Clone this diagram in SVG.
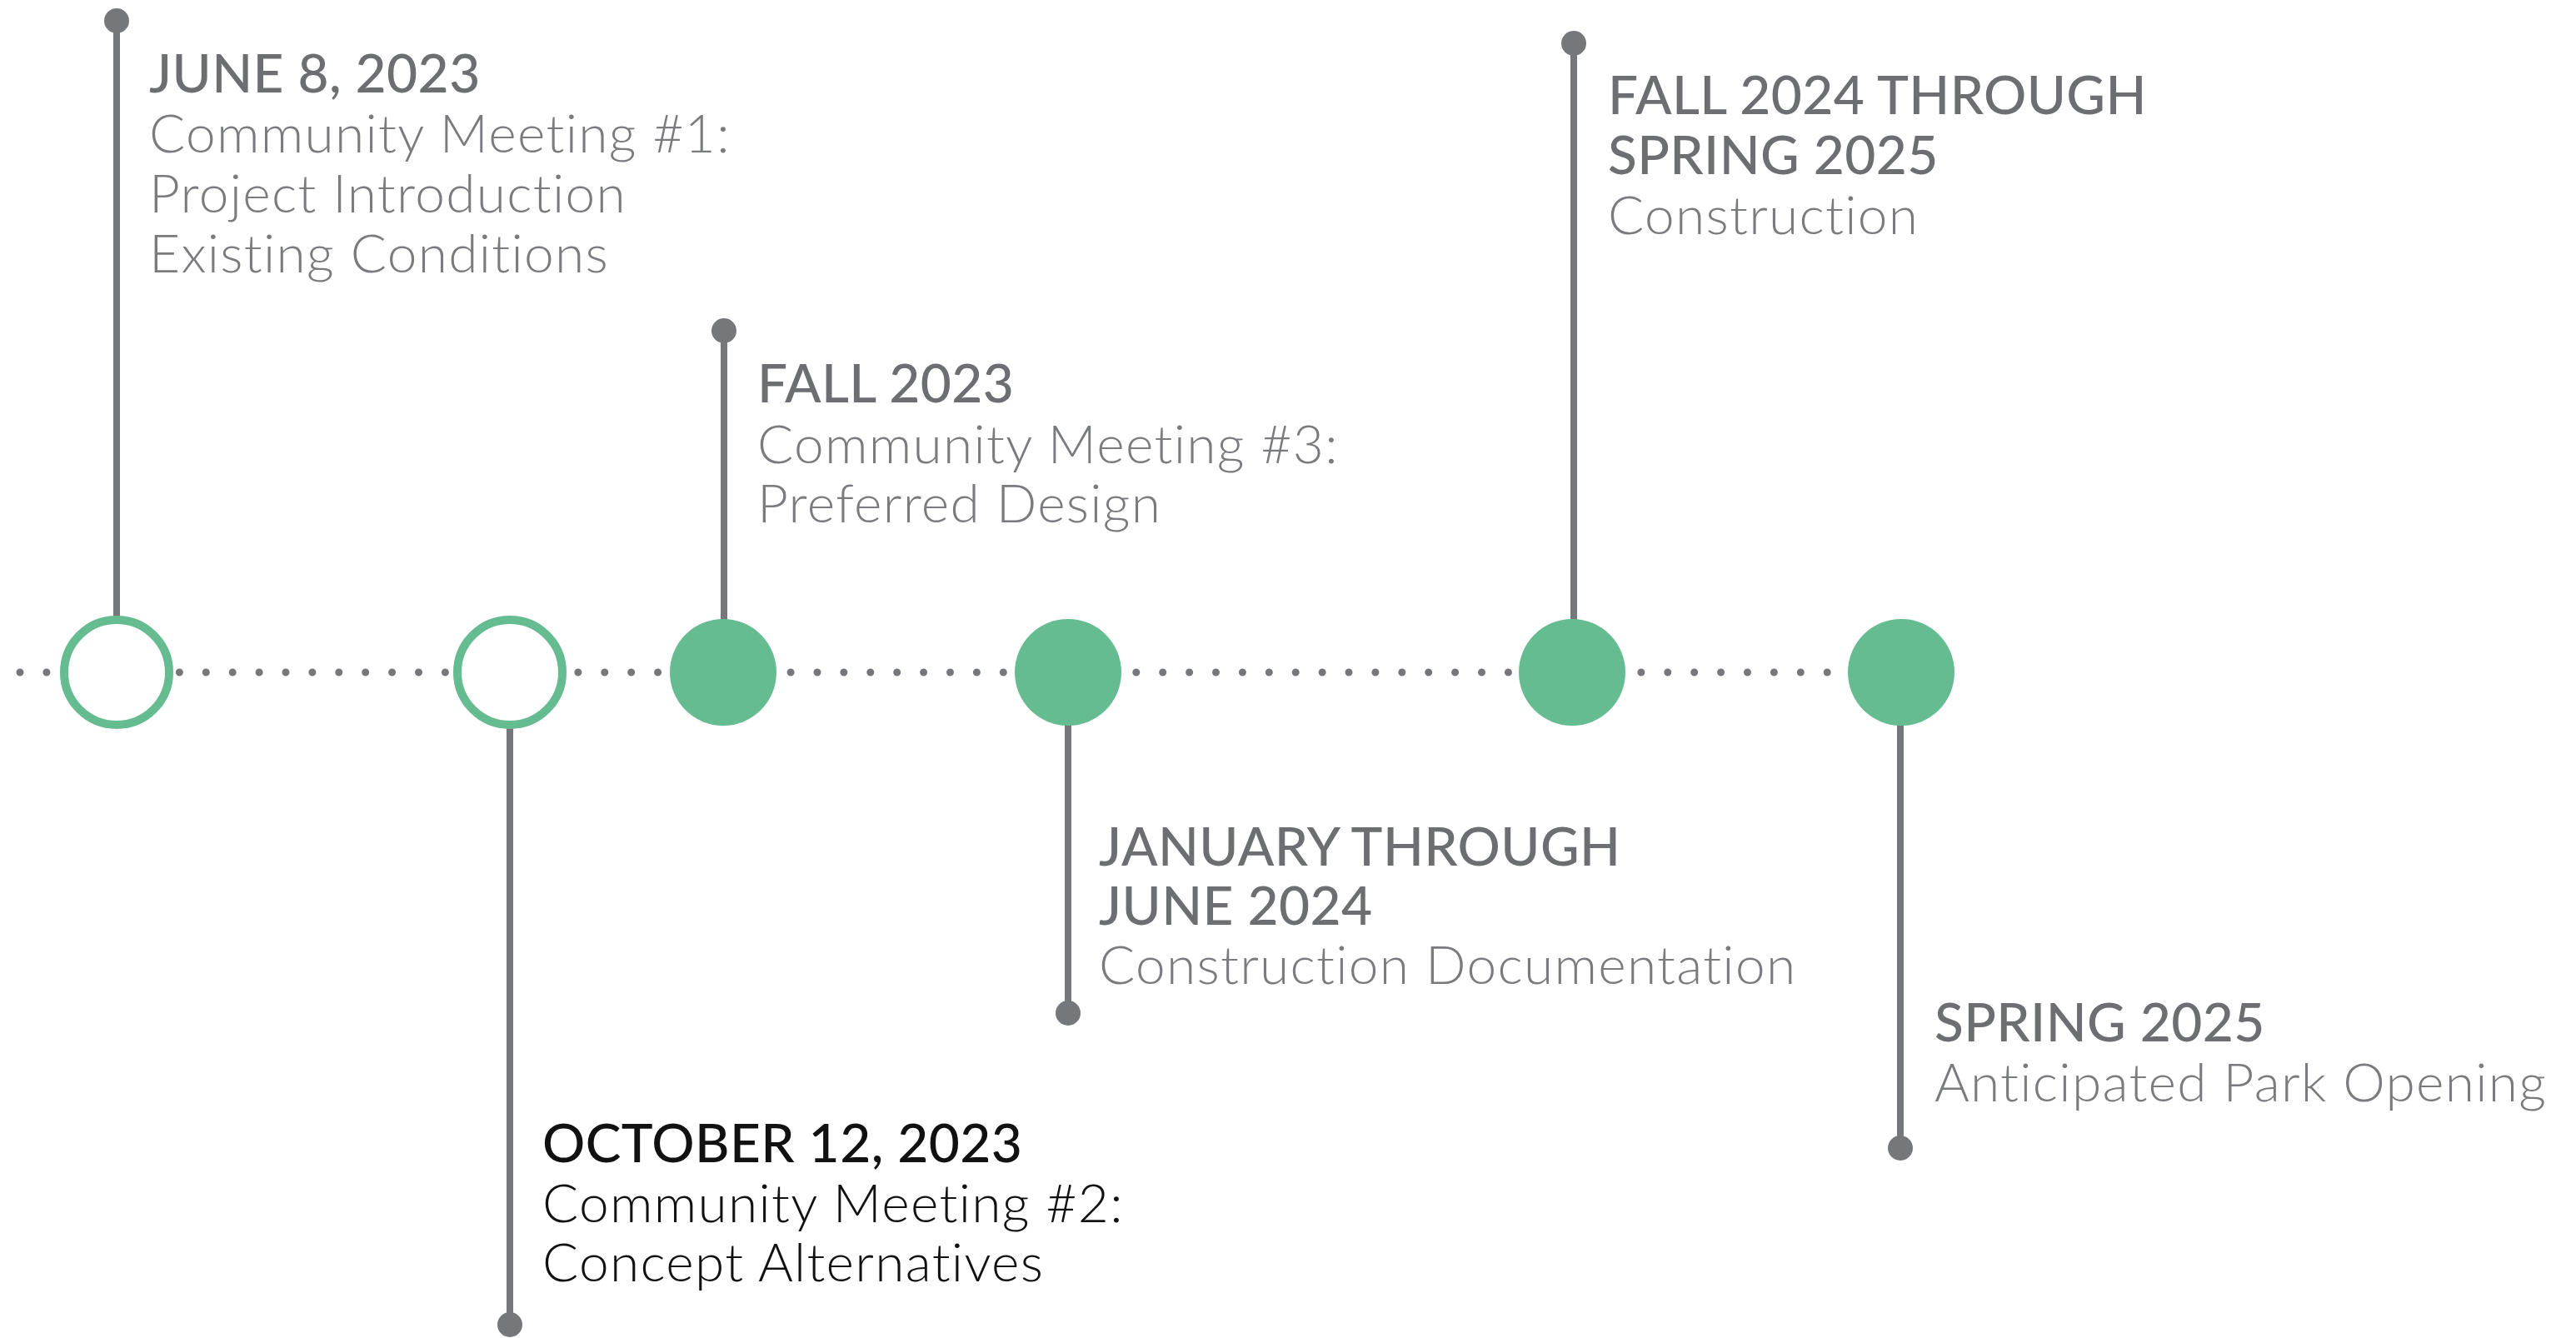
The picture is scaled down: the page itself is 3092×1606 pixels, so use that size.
<svg xmlns="http://www.w3.org/2000/svg" width="3092" height="1606" viewBox="0 0 3092 1606">
<style>
.stem{stroke:#76777b;stroke-width:8;fill:none}
.pin{fill:#76777b}
.hollow{fill:#fff;stroke:#66bc91;stroke-width:10}
.solid{fill:#66bc91}
text{font-variant-ligatures:none}
.h{font-family:Lato,"Liberation Sans",sans-serif;font-weight:500;font-size:64px;letter-spacing:0.4px;fill:#6d6e71}
.b{font-family:Lato,"Liberation Sans",sans-serif;font-weight:300;font-size:64px;letter-spacing:1.3px;fill:#7a7b7e}
.dark{fill:#111}
</style>
<rect width="3092" height="1606" fill="#fff"/>
<g id="connectors">
<line x1="24" y1="807" x2="2230" y2="807" stroke="#76777b" stroke-width="9" stroke-linecap="round" stroke-dasharray="0 31.9"/>
<line class="stem" x1="140" y1="25" x2="140" y2="740"/>
<line class="stem" x1="612" y1="874" x2="612" y2="1590"/>
<line class="stem" x1="869" y1="397" x2="869" y2="750"/>
<line class="stem" x1="1282" y1="860" x2="1282" y2="1216"/>
<line class="stem" x1="1889" y1="52" x2="1889" y2="750"/>
<line class="stem" x1="2281" y1="860" x2="2281" y2="1378"/>
</g>
<g id="node1">
<circle class="pin" cx="140" cy="25" r="15"/>
<circle class="hollow" cx="140" cy="807" r="63"/>
<text class="h" x="179" y="111">JUNE 8, 2023</text>
<text class="b" x="179" y="183">Community Meeting #1:</text>
<text class="b" x="179" y="255">Project Introduction</text>
<text class="b" x="179" y="327">Existing Conditions</text>
</g>
<g id="node2">
<circle class="pin" cx="612" cy="1590" r="15"/>
<circle class="hollow" cx="612" cy="807" r="63"/>
<text class="h dark" x="651" y="1395">OCTOBER 12, 2023</text>
<text class="b dark" x="651" y="1467">Community Meeting #2:</text>
<text class="b dark" x="651" y="1538">Concept Alternatives</text>
</g>
<g id="node3">
<circle class="pin" cx="869" cy="397" r="15"/>
<circle class="solid" cx="868" cy="807" r="64"/>
<text class="h" x="909" y="483">FALL 2023</text>
<text class="b" x="909" y="556">Community Meeting #3:</text>
<text class="b" x="909" y="627">Preferred Design</text>
</g>
<g id="node4">
<circle class="pin" cx="1282" cy="1216" r="15"/>
<circle class="solid" cx="1282" cy="807" r="64"/>
<text class="h" x="1319" y="1039">JANUARY THROUGH</text>
<text class="h" x="1319" y="1110">JUNE 2024</text>
<text class="b" x="1319" y="1181">Construction Documentation</text>
</g>
<g id="node5">
<circle class="pin" cx="1889" cy="52" r="15"/>
<circle class="solid" cx="1887" cy="807" r="64"/>
<text class="h" x="1930" y="137">FALL 2024 THROUGH</text>
<text class="h" x="1930" y="209">SPRING 2025</text>
<text class="b" x="1930" y="281">Construction</text>
</g>
<g id="node6">
<circle class="pin" cx="2281" cy="1378" r="15"/>
<circle class="solid" cx="2282" cy="807" r="64"/>
<text class="h" x="2322" y="1250">SPRING 2025</text>
<text class="b" x="2322" y="1322">Anticipated Park Opening</text>
</g>
</svg>
